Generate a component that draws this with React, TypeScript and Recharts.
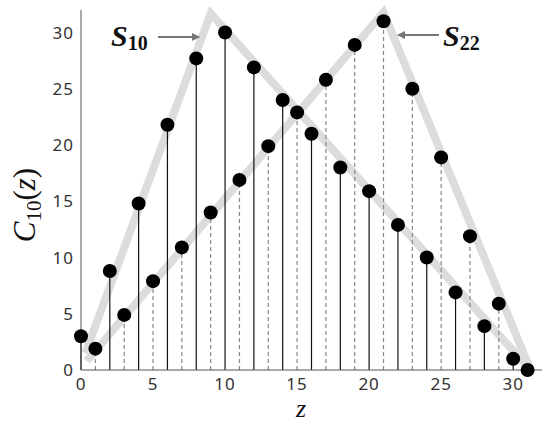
import {
  ComposedChart,
  Line,
  Scatter,
  ErrorBar,
  XAxis,
  YAxis,
} from 'recharts';

// solid stems (even z) and dashed stems (odd z)
const zEven = [0, 2, 4, 6, 8, 10, 12, 14, 16, 18, 20, 22, 24, 26, 28, 30];
const cEven = [3, 8.8, 14.8, 21.8, 27.7, 30, 26.9, 24, 21, 18, 15.9, 12.9, 10, 6.9, 3.9, 1];
const zOdd = [1, 3, 5, 7, 9, 11, 13, 15, 17, 19, 21, 23, 25, 27, 29, 31];
const cOdd = [1.9, 4.9, 7.9, 10.9, 14, 16.9, 19.9, 22.9, 25.8, 28.9, 31, 25, 18.9, 11.9, 5.9, 0];

// gray envelopes S10 and S22
const s10Z = [0.3, 9, 31.2];
const s10V = [1.5, 31.7, 0];
const s22Z = [0.4, 21, 31.2];
const s22V = [0.8, 31.8, 0];

const xTicks = [0, 5, 10, 15, 20, 25, 30];
const yTicks = [0, 5, 10, 15, 20, 25, 30];

const s10Data = s10Z.map((z, i) => ({ z, v: s10V[i] }));
const s22Data = s22Z.map((z, i) => ({ z, v: s22V[i] }));
// stem = error bar from 0 up to the value
const evenPts = zEven.map((z, i) => ({ z, v: cEven[i], stem: [cEven[i], 0] }));
const oddPts = zOdd.map((z, i) => ({ z, v: cOdd[i], stem: [cOdd[i], 0] }));

const tickStyle = { fontFamily: 'Noto Sans', fontSize: 17, fill: '#333', letterSpacing: 1 };

const Dot = (p: any) => <circle cx={p.cx} cy={p.cy} r={7} fill="#000" />;

export default function App() {
  return (
    <div style={{ position: 'absolute', left: 0, top: 0, width: 550, height: 427, background: '#fff' }}>
      <ComposedChart width={550} height={427} margin={{ top: 10, right: 8, bottom: 27, left: 21 }}>
        <XAxis
          dataKey="z"
          type="number"
          domain={[0, 32]}
          ticks={xTicks}
          tickLine={false}
          stroke="#555"
          tick={tickStyle}
          tickMargin={2}
          height={30}
        />
        <YAxis
          type="number"
          domain={[0, 32]}
          ticks={yTicks}
          tickLine={false}
          stroke="#555"
          tick={tickStyle}
          tickMargin={1}
          width={60}
        />
        <Line data={s10Data} dataKey="v" stroke="#dcdcdc" strokeWidth={8} dot={false} isAnimationActive={false} />
        <Line data={s22Data} dataKey="v" stroke="#dcdcdc" strokeWidth={8} dot={false} isAnimationActive={false} />
        <Scatter data={evenPts} dataKey="v" shape={Dot} isAnimationActive={false}>
          <ErrorBar dataKey="stem" direction="y" width={0} stroke="#111" strokeWidth={1.2} isAnimationActive={false} />
        </Scatter>
        <Scatter data={oddPts} dataKey="v" shape={Dot} isAnimationActive={false}>
          <ErrorBar
            dataKey="stem"
            direction="y"
            width={0}
            stroke="#888"
            strokeWidth={1.2}
            strokeDasharray="4 3"
            isAnimationActive={false}
          />
        </Scatter>
      </ComposedChart>
      <svg width={550} height={427} style={{ position: 'absolute', left: 0, top: 0, pointerEvents: 'none' }}>
        <defs>
          <marker id="ah" markerWidth="8" markerHeight="8" refX="7" refY="4" orient="auto" markerUnits="userSpaceOnUse">
            <path d="M0,0 L8,4 L0,8 z" fill="#777" />
          </marker>
        </defs>
        <text x={111} y={46} fontFamily="Liberation Serif" fontWeight="bold" fontStyle="italic" fontSize={30} fill="#111">
          S<tspan fontSize={20} fontStyle="normal" dy={4}>10</tspan>
        </text>
        <line x1={158} y1={37} x2={199} y2={37} stroke="#777" strokeWidth={2} markerEnd="url(#ah)" />
        <text x={443} y={46} fontFamily="Liberation Serif" fontWeight="bold" fontStyle="italic" fontSize={30} fill="#111">
          S<tspan fontSize={20} fontStyle="normal" dy={4}>22</tspan>
        </text>
        <line x1={439} y1={35} x2={398} y2={35} stroke="#777" strokeWidth={2} markerEnd="url(#ah)" />
        <text
          transform="translate(35,205) rotate(-90)"
          textAnchor="middle"
          fontFamily="Liberation Serif"
          fontSize={31}
          fill="#111"
        >
          <tspan fontStyle="italic">C</tspan>
          <tspan fontSize={21} dy={6}>10</tspan>
          <tspan dy={-6}>(</tspan>
          <tspan fontStyle="italic">z</tspan>
          <tspan>)</tspan>
        </text>
        <text x={301} y={417} textAnchor="middle" fontFamily="Liberation Serif" fontStyle="italic" fontSize={26} fill="#111">
          z
        </text>
      </svg>
    </div>
  );
}
